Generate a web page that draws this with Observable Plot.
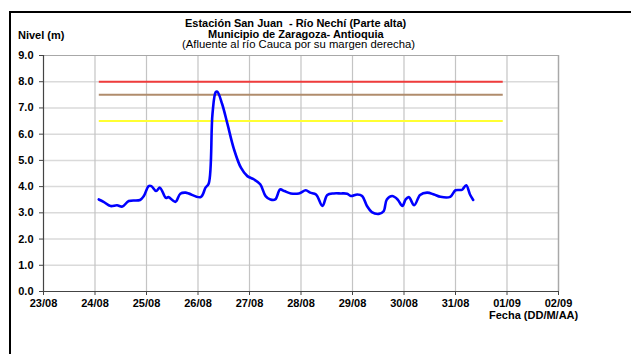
<!DOCTYPE html>
<html><head><meta charset="utf-8">
<script src="https://cdn.jsdelivr.net/npm/d3@7"></script>
<script src="https://cdn.jsdelivr.net/npm/@observablehq/plot@0.6"></script>
<style>
body{margin:0;background:#fff;font-family:"Liberation Sans",Arial,sans-serif;}
#wrap{position:relative;width:631px;height:354px;overflow:hidden;background:#fff;}
#chart{position:absolute;left:0;top:0;}
#frame{position:absolute;left:9px;top:11px;width:700px;height:400px;border-top:2px solid #000;border-left:2px solid #000;box-sizing:border-box;}
.t{position:absolute;white-space:pre;font-size:11px;line-height:10px;height:10px;color:#000;}
.b{font-weight:bold;}
</style></head><body>
<div id="wrap">
<div id="chart"></div>
<div id="frame"></div>
<div class="t b" style="left:185px;top:18px">Estación San Juan  - Río Nechí (Parte alta)</div>
<div class="t b" style="left:208px;top:28.5px">Municipio de Zaragoza- Antioquia</div>
<div class="t" style="left:182px;top:39px;font-size:11.3px">(Afluente al río Cauca por su margen derecha)</div>
<div class="t b" style="left:18px;top:30px">Nivel (m)</div>
<div class="t b" style="left:489px;top:310px">Fecha (DD/M/AA)</div>
</div>
<script>
// Series: water level (m) at Estación San Juan
const fechas = [
  "24/08 01:45","24/08 04:00","24/08 07:15","24/08 10:15","24/08 12:45","24/08 15:45","24/08 21:00","24/08 22:45",
  "25/08 01:00","25/08 02:15","25/08 04:30","25/08 06:15","25/08 09:00","25/08 10:15","25/08 13:30","25/08 15:45","25/08 18:15",
  "26/08 01:15","26/08 03:30","26/08 05:00","26/08 06:45","26/08 08:15","26/08 09:00","26/08 11:15","26/08 13:45","26/08 16:45","26/08 20:00","26/08 23:00",
  "27/08 02:00","27/08 05:00","27/08 07:30","27/08 09:45","27/08 12:00","27/08 14:15","27/08 16:15","27/08 19:15","27/08 23:00",
  "28/08 02:15","28/08 04:15","28/08 07:00","28/08 10:00","28/08 12:15","28/08 15:15","28/08 18:30","28/08 21:30","28/08 23:15",
  "29/08 02:15","29/08 04:30","29/08 06:45","29/08 09:00","29/08 12:15","29/08 14:30","29/08 16:00","29/08 18:30","29/08 21:00","29/08 23:15",
  "30/08 00:45","30/08 02:15","30/08 04:45","30/08 07:30","30/08 10:45","30/08 14:00","30/08 17:00","30/08 21:30",
  "31/08 00:00","31/08 02:30","31/08 03:15","31/08 05:00","31/08 06:45","31/08 08:15"
];
const niveles = [
  3.51,3.42,3.26,3.29,3.24,3.45,3.49,3.64,
  4.02,4.02,3.83,3.96,3.57,3.60,3.42,3.73,3.77,
  3.60,3.96,4.12,6.77,7.60,7.62,7.15,6.38,5.43,4.72,4.40,
  4.28,4.09,3.64,3.51,3.51,3.89,3.83,3.74,3.74,
  3.86,3.77,3.70,3.26,3.68,3.74,3.74,3.73,3.64,
  3.70,3.64,3.26,3.03,2.96,3.06,3.51,3.64,3.51,3.26,
  3.51,3.60,3.29,3.68,3.77,3.70,3.61,3.61,
  3.86,3.87,3.89,4.05,3.70,3.49
];
// Alert thresholds (m)
const umbralRojo = 8.0;
const umbralNaranja = 7.5;
const umbralAmarillo = 6.5;
const umbralInicio = "24/08 02:00";
const umbralFin = "31/08 22:15";
// Axis ticks
const xTickLabels = ["23/08","24/08","25/08","26/08","27/08","28/08","29/08","30/08","31/08","01/09","02/09"];
const yTicks = [0,1,2,3,4,5,6,7,8,9];

const parse = d3.utcParse("%Y %d/%m %H:%M");
const p = s => parse("2010 " + s);
const xTicks = xTickLabels.map(s => p(s + " 00:00"));
const data = fechas.map((f, i) => ({fecha: p(f), nivel: niveles[i]}));
const x0 = xTicks[0], x1 = xTicks[xTicks.length - 1];
const umbrales = [
  {y: umbralRojo, c: "#f03c3c"},
  {y: umbralNaranja, c: "#b08c6c"},
  {y: umbralAmarillo, c: "#ffff33"}
];

const chart = Plot.plot({
  width: 631,
  height: 354,
  marginLeft: 43,
  marginRight: 73,
  marginTop: 55,
  marginBottom: 63,
  style: {fontFamily: "'Liberation Sans', Arial, sans-serif", fontSize: "11px", background: "transparent", overflow: "visible"},
  x: {type: "utc", domain: [x0, x1]},
  y: {domain: [0, 9]},
  marks: [
    Plot.ruleY(yTicks.slice(1, -1), {stroke: "#dadada", strokeWidth: 1.5}),
    Plot.ruleX(xTicks.slice(1, -1), {stroke: "#c4c4c4", strokeWidth: 1.2}),
    Plot.ruleY([9], {stroke: "#a8a8a8", strokeWidth: 1.2}),
    Plot.ruleX([x1], {stroke: "#a8a8a8", strokeWidth: 1.5}),
    Plot.axisY({ticks: yTicks, tickFormat: d => d.toFixed(1), tickSize: 4, tickPadding: 6, fontWeight: "bold", fontSize: 11, label: null, stroke: "#444"}),
    Plot.axisX({ticks: xTicks, tickFormat: d => xTickLabels[xTicks.findIndex(t => +t === +d)], tickSize: 4, tickPadding: 4, fontWeight: "bold", fontSize: 11, label: null, stroke: "#444"}),
    Plot.ruleX([x0], {stroke: "#444", strokeWidth: 1.2}),
    Plot.ruleY([0], {stroke: "#444", strokeWidth: 1.2}),
    Plot.ruleY(umbrales, {y: "y", x1: p(umbralInicio), x2: p(umbralFin), stroke: "c", strokeWidth: 2}),
    Plot.line(data, {x: "fecha", y: "nivel", curve: "catmull-rom", stroke: "#0000ff", strokeWidth: 2.6})
  ]
});
document.getElementById("chart").appendChild(chart);
</script>
</body></html>
